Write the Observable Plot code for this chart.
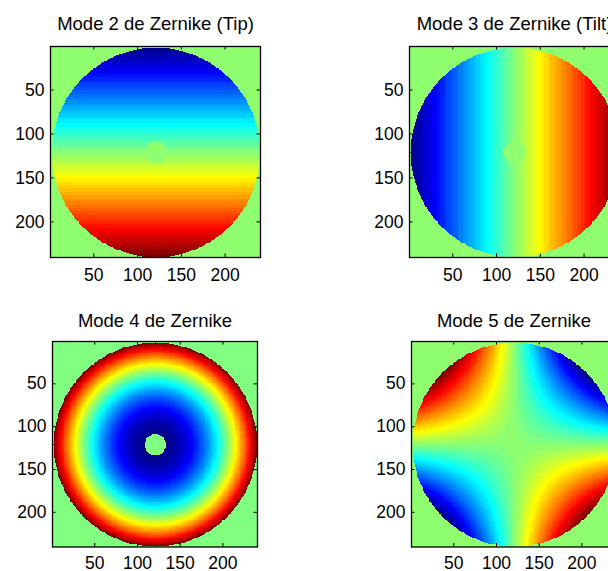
<!DOCTYPE html>
<html><head><meta charset="utf-8">
<script src="https://cdn.jsdelivr.net/npm/d3@7"></script>
<script src="https://cdn.jsdelivr.net/npm/@observablehq/plot@0.6"></script>
<style>
html,body{margin:0;padding:0;background:#fff;}
#wrap{position:relative;width:608px;height:571px;overflow:hidden;background:#fff;}
#wrap svg{position:absolute;}
</style></head><body><div id="wrap"></div>
<script>
// ---- data ----
const modeNumbers = [2, 3, 4, 5];
const modeTitles = ["Mode 2 de Zernike (Tip)", "Mode 3 de Zernike (Tilt)", "Mode 4 de Zernike", "Mode 5 de Zernike"];
const gridSize = 240;              // pixels per side of each phase map
const pupilCenter = [121, 121];    // [column, row], 1-based pixel coordinates
const pupilRadius = 119;           // outer pupil radius, pixels
const obscurationRadius = 12.5;    // central obscuration radius, pixels
const tickValues = [50, 100, 150, 200];
const colormapLevels = 64;

// Zernike modes (Noll numbering) on normalized pupil coordinates
const zernike = {
  2: (X, Y) => Y,
  3: (X, Y) => X,
  4: (X, Y) => 2 * (X * X + Y * Y) - 1,
  5: (X, Y) => 2 * X * Y
};

// ---- MATLAB jet colormap (64 levels) ----
function jetMap(m) {
  const n = Math.ceil(m / 4);
  const u = [];
  for (let i = 1; i <= n; i++) u.push(i / n);
  for (let i = 1; i < n; i++) u.push(1);
  for (let i = n; i >= 1; i--) u.push(i / n);
  const off = Math.ceil(n / 2) - (m % 4 === 1 ? 1 : 0);
  const J = Array.from({length: m}, () => [0, 0, 0]);
  u.forEach((v, k) => {
    const g = off + k + 1, r = g + n, b = g - n;
    if (r >= 1 && r <= m) J[r - 1][0] = v;
    if (g >= 1 && g <= m) J[g - 1][1] = v;
    if (b >= 1 && b <= m) J[b - 1][2] = v;
  });
  return J.map(([r, g, b]) => `rgb(${Math.round(r * 255)},${Math.round(g * 255)},${Math.round(b * 255)})`);
}
const jet = jetMap(colormapLevels);
const jetInterp = t => jet[Math.max(0, Math.min(colormapLevels - 1, Math.floor(t * colormapLevels)))];

function phaseMap(mode) {
  const f = zernike[mode];
  const values = new Float64Array(gridSize * gridSize);
  for (let r = 1; r <= gridSize; r++) {
    for (let c = 1; c <= gridSize; c++) {
      const dx = c - pupilCenter[0], dy = r - pupilCenter[1];
      const d = Math.hypot(dx, dy);
      const inside = d <= pupilRadius && d >= obscurationRadius;
      values[(r - 1) * gridSize + (c - 1)] = inside ? f(dx / pupilRadius, dy / pupilRadius) : 0;
    }
  }
  return Array.from(values);
}

// ---- layout (frame positions in page pixels) ----
const panels = [
  {left: 49.5, top: 45.5, w: 210, h: 211, titleDy: -16.5, tickPad: 11},
  {left: 409,  top: 45.5, w: 210, h: 211, titleDy: -16.5, tickPad: 11},
  {left: 52,   top: 341,  w: 205, h: 205.5, titleDy: -15, tickPad: 10},
  {left: 411,  top: 341,  w: 205, h: 205.5, titleDy: -15, tickPad: 10}
];
const mL = 50, mR = 20, mT = 46, mB = 34, tickLen = 3.5;
const wrap = document.getElementById("wrap");

modeNumbers.forEach((mode, i) => {
  const p = panels[i];
  const values = phaseMap(mode);
  const chart = Plot.plot({
    width: mL + p.w + mR,
    height: mT + p.h + mB,
    marginLeft: mL, marginRight: mR, marginTop: mT, marginBottom: mB,
    style: {fontFamily: "'Liberation Sans', Arial, Helvetica, sans-serif", background: "transparent", color: "black", overflow: "visible"},
    x: {domain: [0.5, gridSize + 0.5], axis: null},
    y: {domain: [0.5, gridSize + 0.5], reverse: true, axis: null},
    color: {type: "linear", domain: d3.extent(values), interpolate: jetInterp},
    marks: [
      Plot.raster(values, {width: gridSize, height: gridSize, x1: 0.5, x2: gridSize + 0.5, y1: 0.5, y2: gridSize + 0.5, fill: Plot.identity, imageRendering: "pixelated"}),
      Plot.ruleX(tickValues, {x: d => d, insetTop: p.h - tickLen, stroke: "black", strokeWidth: 1}),
      Plot.ruleX(tickValues, {x: d => d, insetBottom: p.h - tickLen, stroke: "black", strokeWidth: 1}),
      Plot.ruleY(tickValues, {y: d => d, insetRight: p.w - tickLen, stroke: "black", strokeWidth: 1}),
      Plot.ruleY(tickValues, {y: d => d, insetLeft: p.w - tickLen, stroke: "black", strokeWidth: 1}),
      Plot.frame({stroke: "black", strokeWidth: 1.3}),
      Plot.axisX(tickValues, {anchor: "bottom", tickSize: 0, tickPadding: p.tickPad, fontSize: 17.5, label: null, fill: "black"}),
      Plot.axisY(tickValues, {anchor: "left", tickSize: 0, tickPadding: 6, fontSize: 17.5, label: null, fill: "black"}),
      Plot.text([modeTitles[i]], {text: d => d, frameAnchor: "top", lineAnchor: "bottom", dy: p.titleDy, fontSize: 18.5, fill: "black"})
    ]
  });
  chart.style.left = (p.left - mL) + "px";
  chart.style.top = (p.top - mT) + "px";
  wrap.appendChild(chart);
});
</script>
</body></html>
